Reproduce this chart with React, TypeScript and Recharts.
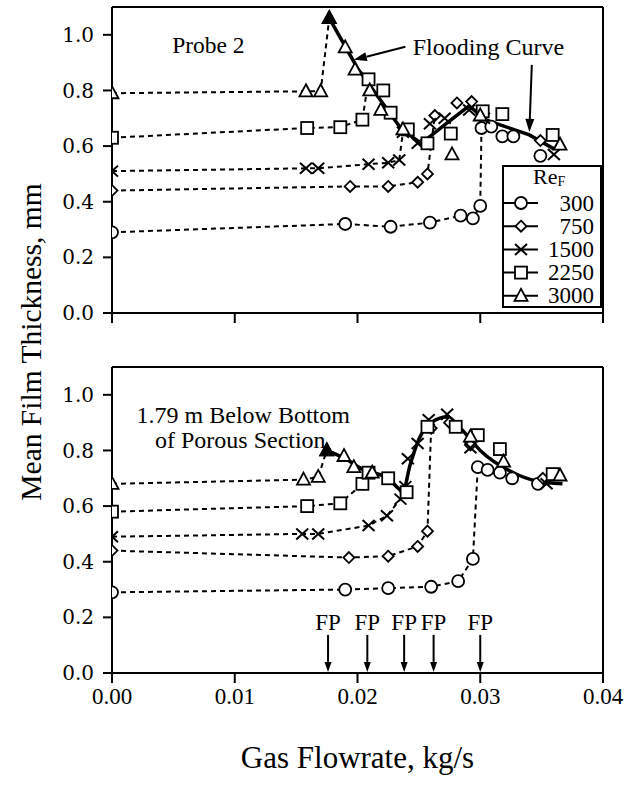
import React from 'react';
import { LineChart, Line, XAxis, YAxis, ReferenceLine, ReferenceDot, Legend } from 'recharts';

const FONT = "'Liberation Serif', 'Times New Roman', Times, serif";
const WIDE_FONT = "'DejaVu Serif', 'Liberation Serif', serif";

type Pt = [number, number];
type Kind = 'circle' | 'diamond' | 'x' | 'square' | 'triangle';

// Film Reynolds numbers, one series each
const reynolds = ['300', '750', '1500', '2250', '3000'];
const kinds: Kind[] = ['circle', 'diamond', 'x', 'square', 'triangle'];

const xTicks = [0, 0.01, 0.02, 0.03, 0.04];
const yTicks = [0, 0.2, 0.4, 0.6, 0.8, 1.0];

// ---- Probe 2: approach to flooding (dotted) and flooded points ----
const p2Re300Pre: Pt[] = [[0, 0.29], [0.019, 0.32], [0.0227, 0.31], [0.0259, 0.325], [0.0284, 0.35], [0.0294, 0.34], [0.03, 0.385], [0.0301, 0.665]];
const p2Re300Post: Pt[] = [[0.0309, 0.67], [0.0318, 0.635], [0.0327, 0.635], [0.0349, 0.565]];
const p2Re750Pre: Pt[] = [[0, 0.44], [0.0194, 0.455], [0.0225, 0.455], [0.0249, 0.47], [0.0257, 0.5], [0.0263, 0.71]];
const p2Re750Post: Pt[] = [[0.0281, 0.755], [0.0293, 0.76], [0.0302, 0.71], [0.0349, 0.62]];
const p2Re1500Pre: Pt[] = [[0, 0.51], [0.0158, 0.52], [0.0168, 0.52], [0.0209, 0.535], [0.0225, 0.54], [0.0234, 0.55], [0.0237, 0.65]];
const p2Re1500Post: Pt[] = [[0.0249, 0.61], [0.0259, 0.68], [0.0271, 0.7], [0.0291, 0.73], [0.0303, 0.7], [0.036, 0.57]];
const p2Re2250Pre: Pt[] = [[0, 0.63], [0.0159, 0.665], [0.0186, 0.668], [0.0204, 0.695], [0.0209, 0.84]];
const p2Re2250Post: Pt[] = [[0.0221, 0.8], [0.0227, 0.72], [0.0241, 0.66], [0.0257, 0.61], [0.0276, 0.645], [0.0302, 0.725], [0.0318, 0.715], [0.0359, 0.64]];
const p2Re3000Pre: Pt[] = [[0, 0.79], [0.0158, 0.797], [0.017, 0.797], [0.0177, 1.06]];
const p2Re3000Post: Pt[] = [[0.019, 0.955], [0.0198, 0.875], [0.021, 0.8], [0.0219, 0.73], [0.0237, 0.66], [0.0277, 0.57], [0.03, 0.71], [0.0365, 0.605]];
const p2Flooding: Pt[] = [[0.0177, 1.06], [0.02, 0.88], [0.0236, 0.66], [0.0252, 0.61], [0.0272, 0.68], [0.0291, 0.745], [0.0304, 0.695], [0.034, 0.64], [0.036, 0.59]];

// ---- 1.79 m below the porous section ----
const lowRe300Pre: Pt[] = [[0, 0.29], [0.019, 0.3], [0.0225, 0.305], [0.026, 0.31], [0.0282, 0.33], [0.0294, 0.41], [0.0298, 0.74]];
const lowRe300Post: Pt[] = [[0.0306, 0.73], [0.0316, 0.72], [0.0326, 0.7], [0.0347, 0.68]];
const lowRe750Pre: Pt[] = [[0, 0.44], [0.0193, 0.415], [0.0225, 0.42], [0.0249, 0.455], [0.0257, 0.51], [0.026, 0.88]];
const lowRe750Post: Pt[] = [[0.0275, 0.9], [0.0292, 0.82], [0.0351, 0.7]];
const lowRe1500Pre: Pt[] = [[0, 0.49], [0.0155, 0.5], [0.0168, 0.5], [0.0209, 0.53], [0.0224, 0.565], [0.0235, 0.625], [0.0239, 0.67]];
const lowRe1500Post: Pt[] = [[0.0241, 0.77], [0.0249, 0.825], [0.0258, 0.91], [0.0273, 0.93], [0.0292, 0.81], [0.0354, 0.68]];
const lowRe2250Pre: Pt[] = [[0, 0.58], [0.0159, 0.6], [0.0186, 0.61], [0.0204, 0.68]];
const lowRe2250Post: Pt[] = [[0.0209, 0.72], [0.0225, 0.7], [0.024, 0.65], [0.0257, 0.885], [0.028, 0.885], [0.0298, 0.855], [0.0316, 0.805], [0.0359, 0.715]];
const lowRe3000Pre: Pt[] = [[0, 0.68], [0.0156, 0.695], [0.0168, 0.705], [0.0175, 0.8]];
const lowRe3000Post: Pt[] = [[0.0189, 0.78], [0.0197, 0.74], [0.0212, 0.72], [0.0292, 0.85], [0.0319, 0.76], [0.0365, 0.71]];
const lowFlooding: Pt[] = [[0.0175, 0.8], [0.019, 0.77], [0.0205, 0.73], [0.0225, 0.7], [0.0237, 0.655], [0.0243, 0.75], [0.025, 0.84], [0.026, 0.9], [0.0273, 0.92], [0.0286, 0.87], [0.03, 0.8], [0.0327, 0.72], [0.0346, 0.69], [0.0367, 0.68]];

// Gas flowrates at the flooding point for each film Reynolds number
const floodPoints = [0.0176, 0.0208, 0.0238, 0.0262, 0.03];

const toRows = (pts: Pt[]) => pts.map(([x, y]) => ({ x, y }));

function Marker({ kind, cx, cy, filled = false }: { kind: Kind; cx: number; cy: number; filled?: boolean }) {
  const common = { stroke: '#000', strokeWidth: 1.8, fill: filled ? '#000' : '#fff' };
  switch (kind) {
    case 'circle':
      return <circle cx={cx} cy={cy} r={6} {...common} />;
    case 'diamond':
      return <polygon points={`${cx},${cy - 5.5} ${cx + 5.5},${cy} ${cx},${cy + 5.5} ${cx - 5.5},${cy}`} {...common} />;
    case 'x':
      return (
        <g stroke="#000" strokeWidth={2}>
          <line x1={cx - 6} y1={cy - 5.5} x2={cx + 6} y2={cy + 5.5} />
          <line x1={cx - 6} y1={cy + 5.5} x2={cx + 6} y2={cy - 5.5} />
        </g>
      );
    case 'square':
      return <rect x={cx - 6} y={cy - 6} width={12} height={12} {...common} />;
    default:
      return <polygon points={`${cx},${cy - 7} ${cx + 6.5},${cy + 5} ${cx - 6.5},${cy + 5}`} {...common} />;
  }
}

const dotFor = (kind: Kind) => (p: any) => (
  <g key={`d-${p.index}`}>
    {p.cx != null && p.cy != null ? <Marker kind={kind} cx={p.cx} cy={p.cy} /> : null}
  </g>
);

const floodDot = (p: any) => (
  <g key={`f-${p.index}`}>
    {p.index === 0 && p.cx != null ? <Marker kind="triangle" cx={p.cx} cy={p.cy} filled /> : null}
  </g>
);

const arrowShape = (head = 13, half = 4.5) => (p: any) => {
  const { x1, y1, x2, y2 } = p;
  const dx = x2 - x1;
  const dy = y2 - y1;
  const len = Math.hypot(dx, dy) || 1;
  const ux = dx / len;
  const uy = dy / len;
  const bx = x2 - ux * head;
  const by = y2 - uy * head;
  return (
    <g>
      <line x1={x1} y1={y1} x2={bx} y2={by} stroke="#000" strokeWidth={2} />
      <polygon points={`${x2},${y2} ${bx - uy * half},${by + ux * half} ${bx + uy * half},${by - ux * half}`} fill="#000" />
    </g>
  );
};

const textShape = (label: string, size = 24, anchor: 'start' | 'middle' = 'start') => (p: any) => (
  <text x={p.cx} y={p.cy} fontFamily={FONT} fontSize={size} textAnchor={anchor} dominantBaseline="central" fill="#000">
    {label}
  </text>
);

function seriesLines(pre: Pt[], post: Pt[], kind: Kind, id: string) {
  return [
    <Line
      key={`${id}-pre`}
      data={toRows(pre)}
      dataKey="y"
      type="linear"
      stroke="#000"
      strokeWidth={2}
      strokeDasharray="5 4"
      dot={dotFor(kind)}
      activeDot={false}
      isAnimationActive={false}
      legendType="none"
    />,
    <Line
      key={`${id}-post`}
      data={toRows(post)}
      dataKey="y"
      stroke="none"
      dot={dotFor(kind)}
      activeDot={false}
      isAnimationActive={false}
      legendType="none"
    />,
  ];
}

const xTickStyle = { fill: '#000', fontSize: 23, fontFamily: FONT };
const yTickStyle = { fill: '#000', fontSize: 20, fontFamily: WIDE_FONT };
const lineStyle = { stroke: '#000', strokeWidth: 2 };

// Legend: framed box with the film Reynolds number title and one row per series
function LegendBox() {
  return (
    <svg width={100} height={150} style={{ display: 'block' }}>
      <rect x={1} y={6} width={98} height={141} fill="#fff" stroke="#000" strokeWidth={2} />
      <text x={31} y={24} fontFamily={FONT} fontSize={22} fill="#000">
        Re<tspan fontSize={14} dy={2}>F</tspan>
      </text>
      {reynolds.map((r, i) => {
        const cy = 43 + i * 23.2;
        return (
          <g key={r}>
            <line x1={2} x2={36} y1={cy} y2={cy} stroke="#000" strokeWidth={2} />
            <Marker kind={kinds[i]} cx={19} cy={cy} />
            <text x={92} y={cy} textAnchor="end" dominantBaseline="central" fontFamily={FONT} fontSize={23} fill="#000">
              {r}
            </text>
          </g>
        );
      })}
    </svg>
  );
}

const fmtX = (v: number) => v.toFixed(2);
const fmtY = (v: number) => v.toFixed(1);

export default function App() {
  return (
    <div style={{ position: 'absolute', left: 0, top: 0, width: 626, height: 786, background: '#fff', fontFamily: FONT }}>
      <svg width={60} height={786} style={{ position: 'absolute', left: 0, top: 0, pointerEvents: 'none' }}>
        <text transform="translate(31,342) rotate(-90)" textAnchor="middle" dominantBaseline="central" fontSize={29.5} fontFamily={FONT} fill="#000">
          Mean Film Thickness, mm
        </text>
      </svg>

      {/* Probe 2 */}
      <div style={{ position: 'absolute', left: 0, top: 0 }}>
        <LineChart width={626} height={340} margin={{ top: 7, right: 23, bottom: 7, left: 0 }}>
          <XAxis
            dataKey="x"
            type="number"
            domain={[0, 0.04]}
            ticks={xTicks}
            allowDataOverflow
            height={20}
            tickSize={10}
            tickFormatter={() => ''}
            tickLine={lineStyle}
            axisLine={lineStyle}
          />
          <YAxis
            type="number"
            domain={[0, 1.1]}
            ticks={yTicks}
            allowDataOverflow
            width={112}
            tickSize={9}
            tickMargin={9}
            tickFormatter={fmtY}
            tick={yTickStyle}
            tickLine={lineStyle}
            axisLine={lineStyle}
          />
          <ReferenceLine y={1.1} stroke="#000" strokeWidth={2} />
          <ReferenceLine x={0.04} stroke="#000" strokeWidth={2} />
          {seriesLines(p2Re300Pre, p2Re300Post, 'circle', 'p2-300')}
          {seriesLines(p2Re750Pre, p2Re750Post, 'diamond', 'p2-750')}
          {seriesLines(p2Re1500Pre, p2Re1500Post, 'x', 'p2-1500')}
          {seriesLines(p2Re2250Pre, p2Re2250Post, 'square', 'p2-2250')}
          {seriesLines(p2Re3000Pre, p2Re3000Post, 'triangle', 'p2-3000')}
          <Line
            data={toRows(p2Flooding)}
            dataKey="y"
            type="linear"
            stroke="#000"
            strokeWidth={3.5}
            dot={floodDot}
            activeDot={false}
            isAnimationActive={false}
            legendType="none"
          />
          <ReferenceDot x={0.0049} y={0.964} r={0} shape={textShape('Probe 2', 23.5)} />
          <ReferenceDot x={0.0245} y={0.957} r={0} shape={textShape('Flooding Curve')} />
          <ReferenceLine segment={[{ x: 0.0239, y: 0.957 }, { x: 0.0197, y: 0.91 }]} shape={arrowShape()} />
          <ReferenceLine segment={[{ x: 0.0342, y: 0.892 }, { x: 0.034, y: 0.651 }]} shape={arrowShape()} />
          <Legend
            layout="vertical"
            align="center"
            verticalAlign="middle"
            content={() => <LegendBox />}
            wrapperStyle={{ left: 502, top: 160, width: 100, height: 150 }}
          />
        </LineChart>
      </div>

      {/* 1.79 m below the porous section */}
      <div style={{ position: 'absolute', left: 0, top: 360 }}>
        <LineChart width={626} height={420} margin={{ top: 7, right: 23, bottom: 7, left: 0 }}>
          <XAxis
            dataKey="x"
            type="number"
            domain={[0, 0.04]}
            ticks={xTicks}
            allowDataOverflow
            height={100}
            tickSize={10}
            tickMargin={5}
            tickFormatter={fmtX}
            tick={xTickStyle}
            tickLine={lineStyle}
            axisLine={lineStyle}
            label={{ value: 'Gas Flowrate, kg/s', position: 'insideBottom', offset: 5, fill: '#000', fontSize: 31, fontFamily: FONT }}
          />
          <YAxis
            type="number"
            domain={[0, 1.1]}
            ticks={yTicks}
            allowDataOverflow
            width={112}
            tickSize={9}
            tickMargin={9}
            tickFormatter={fmtY}
            tick={yTickStyle}
            tickLine={lineStyle}
            axisLine={lineStyle}
          />
          <ReferenceLine y={1.1} stroke="#000" strokeWidth={2} />
          <ReferenceLine x={0.04} stroke="#000" strokeWidth={2} />
          {seriesLines(lowRe300Pre, lowRe300Post, 'circle', 'lo-300')}
          {seriesLines(lowRe750Pre, lowRe750Post, 'diamond', 'lo-750')}
          {seriesLines(lowRe1500Pre, lowRe1500Post, 'x', 'lo-1500')}
          {seriesLines(lowRe2250Pre, lowRe2250Post, 'square', 'lo-2250')}
          {seriesLines(lowRe3000Pre, lowRe3000Post, 'triangle', 'lo-3000')}
          <Line
            data={toRows(lowFlooding)}
            dataKey="y"
            type="monotone"
            stroke="#000"
            strokeWidth={3.5}
            dot={floodDot}
            activeDot={false}
            isAnimationActive={false}
            legendType="none"
          />
          <ReferenceDot x={0.002} y={0.928} r={0} shape={textShape('1.79 m Below Bottom')} />
          <ReferenceDot x={0.0035} y={0.838} r={0} shape={textShape('of Porous Section')} />
          {floodPoints.map((fx) => (
            <ReferenceDot key={`fp-${fx}`} x={fx} y={0.183} r={0} shape={textShape('FP', 23, 'middle')} />
          ))}
          {floodPoints.map((fx) => (
            <ReferenceLine key={`fa-${fx}`} segment={[{ x: fx, y: 0.137 }, { x: fx, y: 0.004 }]} shape={arrowShape(10, 3.5)} />
          ))}
        </LineChart>
      </div>
    </div>
  );
}
